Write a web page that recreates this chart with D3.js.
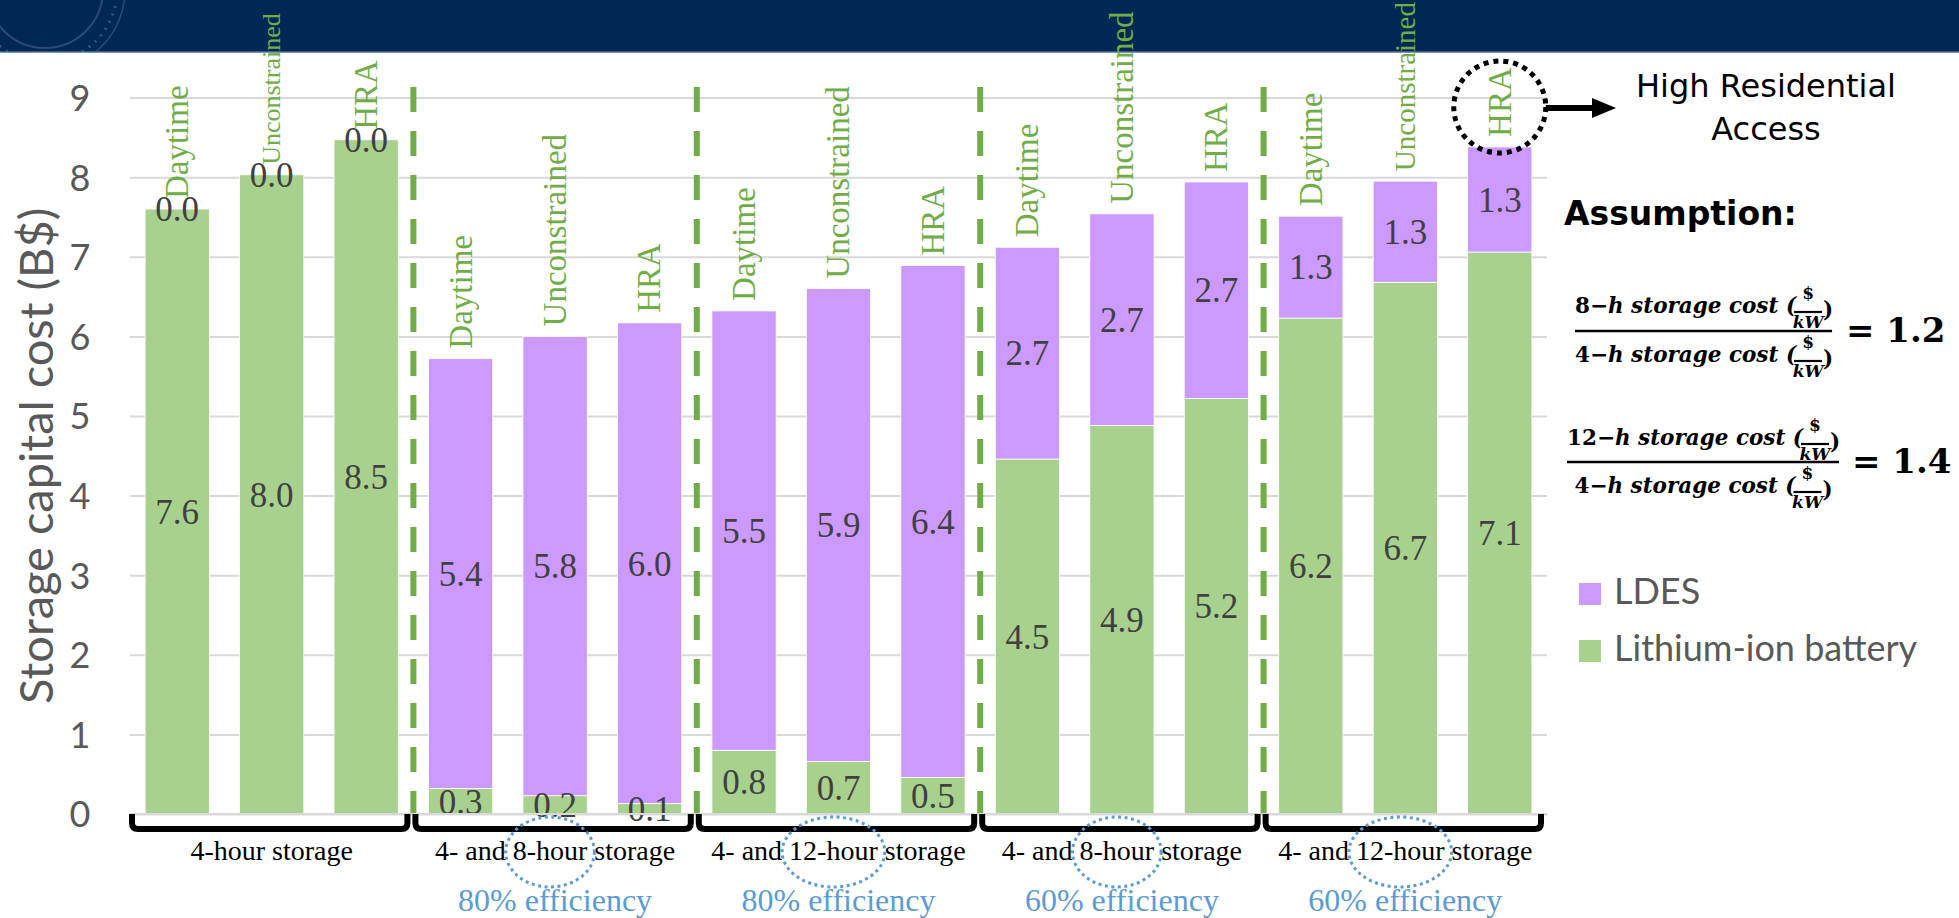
<!DOCTYPE html>
<html>
<head>
<meta charset="utf-8">
<script src="https://cdn.jsdelivr.net/npm/d3@7"></script>
<style>
  body { margin: 0; background: #fff; }
  svg { display: block; }
</style>
</head>
<body>
<svg id="chart" width="1959" height="918"></svg>
<script>
// data
const scenarios = ["Daytime", "Unconstrained", "HRA",
                   "Daytime", "Unconstrained", "HRA",
                   "Daytime", "Unconstrained", "HRA",
                   "Daytime", "Unconstrained", "HRA",
                   "Daytime", "Unconstrained", "HRA"];
const liIon = [7.6, 8.03, 8.47, 0.32, 0.23, 0.13, 0.8, 0.66, 0.46, 4.46, 4.88, 5.22, 6.23, 6.68, 7.06];
const ldes  = [0.0, 0.0, 0.0, 5.4, 5.77, 6.04, 5.52, 5.94, 6.43, 2.66, 2.66, 2.72, 1.28, 1.27, 1.32];
const groupLabels = ["4-hour storage", "4- and 8-hour storage", "4- and 12-hour storage",
                     "4- and 8-hour storage", "4- and 12-hour storage"];
const efficiency = ["", "80% efficiency", "80% efficiency", "60% efficiency", "60% efficiency"];
const yTicks = [0, 1, 2, 3, 4, 5, 6, 7, 8, 9];
const seriesNames = ["LDES", "Lithium-ion battery"];
const ratios = [["8", "1.2"], ["12", "1.4"]];

const GREEN = "#a9d18e", PURPLE = "#cc99ff", SEP = "#70ad47", BLUE = "#5b9bd5";
const SERIF = "'Liberation Serif', 'Times New Roman', serif";
const SANS = "Lato, 'Open Sans', sans-serif";
const TAHOMA = "'DejaVu Sans', Verdana, sans-serif";
const MATH = "'DejaVu Serif', serif";
// a few rotated labels were squeezed to fit in the original slide
const scenarioSize = { 1: 26, 13: 29 };

const svg = d3.select("#chart");

// slide header band (with the faint seal, clipped to the band)
svg.append("defs").append("clipPath").attr("id", "band")
  .append("rect").attr("x", 0).attr("y", 0).attr("width", 1959).attr("height", 52);
const header = svg.append("g");
header.append("rect").attr("x", 0).attr("y", 0).attr("width", 1959).attr("height", 52).attr("fill", "#002855");
const seal = header.append("g").attr("clip-path", "url(#band)");
seal.append("circle").attr("cx", 45).attr("cy", -10).attr("r", 58)
  .attr("fill", "none").attr("stroke", "#2b4a76").attr("stroke-width", 2);
seal.append("circle").attr("cx", 45).attr("cy", -10).attr("r", 72)
  .attr("fill", "none").attr("stroke", "#34527d").attr("stroke-width", 3).attr("stroke-dasharray", "2 6");
seal.append("circle").attr("cx", 45).attr("cy", -10).attr("r", 80)
  .attr("fill", "none").attr("stroke", "#2b4a76").attr("stroke-width", 1.5);
header.append("line").attr("x1", 0).attr("x2", 1959).attr("y1", 52).attr("y2", 52)
  .attr("stroke", "#4f6f9c").attr("stroke-width", 1.5);

const x = d3.scaleBand().domain(d3.range(scenarios.length)).range([130, 1547])
  .paddingInner(0.32).paddingOuter(0.16);
const y = d3.scaleLinear().domain([0, 9]).range([814, 97.6]);

// gridlines + y labels
const yAxis = svg.append("g").call(d3.axisLeft(y).tickValues(yTicks).tickSize(-(1547 - 130)).tickFormat(d3.format("d")))
  .attr("transform", "translate(130,0)");
yAxis.select(".domain").remove();
yAxis.selectAll(".tick line").attr("stroke", "#d9d9d9").attr("stroke-width", 2);
yAxis.selectAll(".tick text").attr("x", -50).attr("dy", "0.36em").attr("text-anchor", "middle")
  .attr("font-family", SANS).attr("font-size", 36).attr("fill", "#595959");

svg.append("text")
  .attr("transform", `translate(37,${(y(0) + y(9)) / 2}) rotate(-90)`)
  .attr("text-anchor", "middle").attr("dy", "0.35em")
  .attr("font-family", SANS).attr("font-size", 47).attr("fill", "#595959")
  .text("Storage capital cost (B$)");

// stacked bars
const rows = scenarios.map((s, i) => ({ i, li: liIon[i], ldes: ldes[i] }));
const stack = d3.stack().keys(["li", "ldes"])(rows);
const colors = { li: GREEN, ldes: PURPLE };

const layers = svg.append("g").selectAll("g").data(stack).join("g").attr("fill", d => colors[d.key]);
layers.selectAll("rect").data(d => d).join("rect")
  .attr("x", d => x(d.data.i))
  .attr("y", d => y(d[1]))
  .attr("width", x.bandwidth())
  .attr("height", d => y(d[0]) - y(d[1]))
  .attr("stroke", "#fff").attr("stroke-width", 0.8);

// group separators
const step = x.step();
const sepX = [3, 6, 9, 12].map(i => x(i) - step * x.paddingInner() / 2);
svg.append("g").selectAll("line").data(sepX).join("line")
  .attr("x1", d => d).attr("x2", d => d)
  .attr("y1", 87).attr("y2", y(0))
  .attr("stroke", SEP).attr("stroke-width", 6).attr("stroke-dasharray", "25 19");

// value labels in each segment
svg.append("g").selectAll("g").data(stack).join("g")
  .selectAll("text").data(d => d).join("text")
  .attr("x", d => x(d.data.i) + x.bandwidth() / 2)
  .attr("y", d => (y(d[0]) + y(d[1])) / 2)
  .attr("dy", "0.35em").attr("text-anchor", "middle")
  .attr("font-family", SERIF).attr("font-size", 35).attr("fill", "#404040")
  .text(d => (d[1] - d[0]).toFixed(1));

// rotated scenario labels above the bars
svg.append("g").selectAll("text").data(rows).join("text")
  .attr("transform", d => `translate(${x(d.i) + x.bandwidth() / 2},${y(d.li + d.ldes) - 10}) rotate(-90)`)
  .attr("dy", "0.33em")
  .attr("font-family", SERIF).attr("font-size", d => scenarioSize[d.i] || 33).attr("fill", SEP)
  .text(d => scenarios[d.i]);

// x axis line
svg.append("line").attr("x1", 130).attr("x2", 1547).attr("y1", y(0)).attr("y2", y(0))
  .attr("stroke", "#d9d9d9").attr("stroke-width", 2);

// group brackets and labels
const groupG = svg.append("g");
groupLabels.forEach((label, k) => {
  const gL = 130 + k * 3 * step, gR = gL + 3 * step;
  const x0 = gL + 2, x1 = gR - 6, yb = 829;
  groupG.append("path")
    .attr("d", `M${x0},${y(0)} V${yb - 6} Q${x0},${yb} ${x0 + 6},${yb} H${x1 - 6} Q${x1},${yb} ${x1},${yb - 6} V${y(0)}`)
    .attr("fill", "none").attr("stroke", "#000").attr("stroke-width", 6).attr("stroke-linejoin", "round");
  const cx = (gL + gR) / 2;
  const t = groupG.append("text").attr("x", cx).attr("y", 860).attr("text-anchor", "middle")
    .attr("font-family", SERIF).attr("font-size", 28).attr("fill", "#000").text(label);
  const m = label.match(/and (\d+-hour)/);
  if (m) {
    const node = t.node();
    const total = node.getComputedTextLength();
    const start = cx - total / 2;
    const pre = label.indexOf(m[1]);
    const hx = start + node.getSubStringLength(0, pre);
    const hw = node.getSubStringLength(pre, m[1].length);
    groupG.append("ellipse").attr("cx", hx + hw / 2).attr("cy", 852)
      .attr("rx", hw / 2 + 7).attr("ry", 35)
      .attr("fill", "none").attr("stroke", BLUE).attr("stroke-width", 3).attr("stroke-dasharray", "3 3.5");
  }
  if (efficiency[k]) {
    groupG.append("text").attr("x", cx).attr("y", 911).attr("text-anchor", "middle")
      .attr("font-family", SERIF).attr("font-size", 32).attr("fill", BLUE).text(efficiency[k]);
  }
});

// HRA callout
const hraX = x(14) + x.bandwidth() / 2;
const note = svg.append("g");
note.append("circle").attr("cx", hraX).attr("cy", 107).attr("r", 46)
  .attr("fill", "none").attr("stroke", "#000").attr("stroke-width", 5).attr("stroke-dasharray", "5 5");
note.append("line").attr("x1", hraX + 46).attr("x2", 1596).attr("y1", 108).attr("y2", 108)
  .attr("stroke", "#000").attr("stroke-width", 6);
note.append("path").attr("d", "M1592,98 L1616,108 L1592,118 Z").attr("fill", "#000");
note.append("text").attr("x", 1766).attr("y", 97).attr("text-anchor", "middle")
  .attr("font-family", TAHOMA).attr("font-size", 32).attr("fill", "#000").text("High Residential");
note.append("text").attr("x", 1766).attr("y", 140).attr("text-anchor", "middle")
  .attr("font-family", TAHOMA).attr("font-size", 32).attr("fill", "#000").text("Access");
note.append("text").attr("x", 1564).attr("y", 225)
  .attr("font-family", TAHOMA).attr("font-weight", "bold").attr("font-size", 33).attr("fill", "#000").text("Assumption:");

// cost-ratio formulas
function costLine(g, hours, x0, base, size) {
  const t = g.append("text").attr("x", x0).attr("y", base)
    .attr("font-family", MATH).attr("font-weight", "bold").attr("font-size", size).attr("fill", "#000");
  t.append("tspan").text(hours + "\u2212");
  t.append("tspan").attr("font-style", "italic").text("h storage cost (");
  const w = t.node().getComputedTextLength();
  const fx = x0 + w + 12;
  g.append("text").attr("x", fx).attr("y", base - 14).attr("text-anchor", "middle")
    .attr("font-family", MATH).attr("font-weight", "bold").attr("font-size", 17).text("$");
  g.append("line").attr("x1", fx - 14).attr("x2", fx + 14).attr("y1", base - 1).attr("y2", base - 1)
    .attr("stroke", "#000").attr("stroke-width", 2.2);
  g.append("text").attr("x", fx).attr("y", base + 15).attr("text-anchor", "middle")
    .attr("font-family", MATH).attr("font-weight", "bold").attr("font-style", "italic").attr("font-size", 17).text("kW");
  g.append("text").attr("x", fx + 15).attr("y", base + 4)
    .attr("font-family", MATH).attr("font-weight", "bold").attr("font-size", size).text(")");
  return w + 36;
}
const formulaPos = [{ x0: 1575, num: 313, line: 331, den: 362, vx: 1846 },
                    { x0: 1567, num: 445, line: 462, den: 493, vx: 1852 }];
ratios.forEach(([h, v], k) => {
  const p = formulaPos[k];
  const g = svg.append("g");
  const wn = costLine(g, h, p.x0, p.num, 21.5);
  const gd = svg.append("g");
  const wd = costLine(gd, "4", 0, p.den, 21.5);
  const w = Math.max(wn, wd);
  gd.attr("transform", `translate(${p.x0 + (w - wd) / 2},0)`);
  g.append("line").attr("x1", p.x0).attr("x2", p.x0 + w).attr("y1", p.line).attr("y2", p.line)
    .attr("stroke", "#000").attr("stroke-width", 2.5);
  g.append("text").attr("x", Math.max(p.vx, p.x0 + w + 8)).attr("y", p.line + 11)
    .attr("font-family", MATH).attr("font-weight", "bold").attr("font-size", 34).text("= " + v);
});

// legend
const legend = svg.append("g").selectAll("g").data(seriesNames).join("g")
  .attr("transform", (d, i) => `translate(1579,${583 + i * 57})`);
legend.append("rect").attr("width", 22).attr("height", 22).attr("fill", (d, i) => i === 0 ? PURPLE : GREEN);
legend.append("text").attr("x", 35).attr("y", 21)
  .attr("font-family", SANS).attr("font-size", 36).attr("fill", "#595959").text(d => d);
</script>
</body>
</html>
